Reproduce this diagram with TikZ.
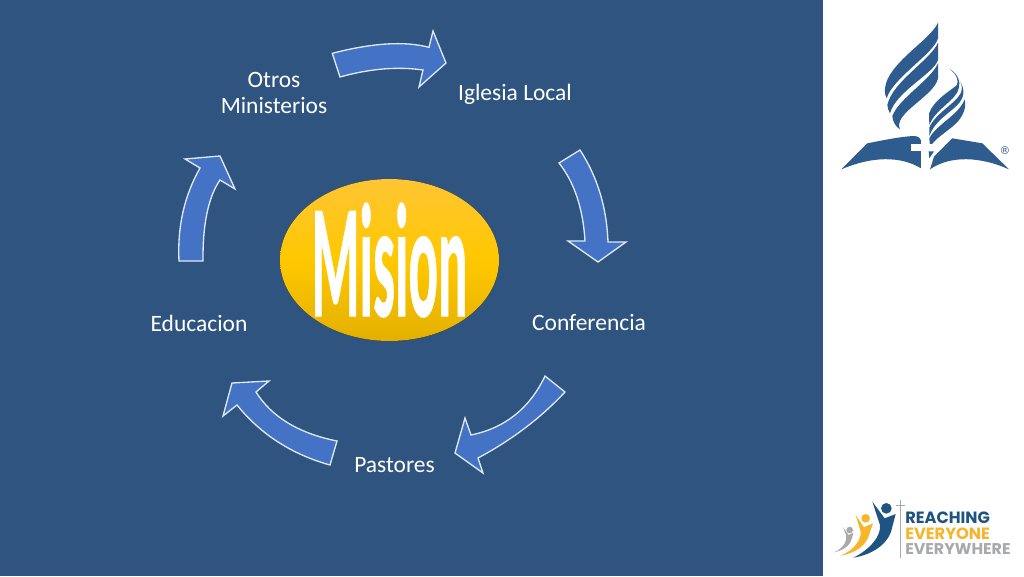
\documentclass[tikz,border=0pt]{standalone}
\usepackage{fontspec}
\setmainfont{Carlito}
\newfontfamily\logofont{Poppins}
\newfontfamily\regfont{DejaVu Sans}
\newfontfamily\misfont{Carlito}[BoldFeatures={FakeBold=0.8}]
\usetikzlibrary{shapes.geometric}
\definecolor{slidebg}{HTML}{2F5480}
\definecolor{arrowblue}{HTML}{4472C4}
\definecolor{arrowline}{HTML}{DDE8F5}
\definecolor{logoblue}{HTML}{2F5C8F}
\definecolor{navy}{HTML}{1F5382}
\definecolor{gold}{HTML}{F7B52C}
\definecolor{greyfig}{HTML}{A8A9AB}
\definecolor{balltop}{HTML}{FFC533}
\definecolor{ballmid}{HTML}{FFC800}
\definecolor{ballbot}{HTML}{E3B000}
\tikzset{
  bigarrow/.style={fill=arrowblue,draw=arrowline,line width=1pt,line join=miter},
  cyclelabel/.style={text=white,font=\fontsize{17.6}{20}\selectfont,align=center,inner sep=0pt},
  logotext/.style={inner sep=0pt,anchor=north west,font=\logofont\bfseries}
}
\begin{document}
\begin{tikzpicture}[x=0.75pt,y=-0.75pt]
\useasboundingbox (0,0) rectangle (1024,576);
\fill[white] (0,0) rectangle (1024,576);
\fill[slidebg] (0,0) rectangle (823,576);

% cycle arrows
\draw[bigarrow] (332.3,53.3) .. controls (372.6,42.9) and (404.8,40.9) .. (429,47.3) -- (433,31) -- (446,63) -- (419,87) -- (423,70) .. controls (397.3,66.3) and (369.7,68.7) .. (340,77) -- cycle;
\draw[bigarrow] (580,150) .. controls (597.3,176.7) and (606.7,207.3) .. (608,242) -- (626,242) -- (598,262) -- (568,241) -- (585,241) .. controls (583,208.3) and (574.3,182.3) .. (559,163) -- cycle;
\draw[bigarrow] (565,392) .. controls (540.7,418) and (511.7,440) .. (478,458) -- (483,473) -- (455,453) -- (465,418) -- (471,435) .. controls (505,428) and (529.7,408.3) .. (545,376) -- cycle;
\draw[bigarrow] (330,465) .. controls (291.7,454.3) and (260.7,434.3) .. (237,405) -- (223,416) -- (232,383) -- (269,381) -- (256,392) .. controls (271.7,417) and (298.7,433.3) .. (337,441) -- cycle;
\draw[bigarrow] (203,261) .. controls (202.7,224) and (208.3,197) .. (220,180) -- (235,189) -- (220,156) -- (185,159) -- (200,168) .. controls (184.3,195.7) and (177.3,226.7) .. (179,261) -- cycle;

% centre
\fill[bottom color=ballbot,top color=balltop,middle color=ballmid,shading angle=0] (389.5,260) ellipse [x radius=109.5,y radius=81];
\node[inner sep=0pt,text=white] (mision) at (389.5,260)
  {\resizebox{117pt}{85pt}{\misfont\bfseries Mision}};

% labels
\node[cyclelabel] (iglesia) at (515,94) {Iglesia Local};
\node[cyclelabel] (conferencia) at (589,323) {Conferencia};
\node[cyclelabel] (pastores) at (394.5,465) {Pastores};
\node[cyclelabel] (educacion) at (199,323) {Educacion};
\node[cyclelabel] (otros) at (274,93) {Otros\\Ministerios};

% church logo
\begin{scope}[shift={(824,10)},x=0.25pt,y=-0.25pt]
  % big flame
  \fill[logoblue] (342,38) .. controls (320,90) and (190,160) .. (183,235) .. controls (182,250) and (184,258) .. (188,265) .. controls (205,205) and (330,130) .. (342,85) -- cycle;
  \fill[logoblue] (342,98) .. controls (320,150) and (205,215) .. (190,285) .. controls (191,295) and (194,303) .. (198,310) .. controls (215,245) and (330,190) .. (342,150) -- cycle;
  \fill[logoblue] (342,160) .. controls (320,210) and (225,265) .. (205,318) .. controls (206,335) and (215,350) .. (228,358) .. controls (205,310) and (330,260) .. (342,205) -- cycle;
  % small flame
  \fill[logoblue] (378,178) .. controls (400,195) and (405,215) .. (398,226) .. controls (375,245) and (330,270) .. (315,310) -- (316,345) .. controls (335,295) and (400,270) .. (405,232) .. controls (410,215) and (400,190) .. (378,178) -- cycle;
  \fill[logoblue] (408,215) .. controls (425,240) and (420,265) .. (400,285) .. controls (375,310) and (330,335) .. (316,378) -- (316,352) .. controls (335,310) and (395,280) .. (410,250) .. controls (415,240) and (415,225) .. (408,215) -- cycle;
  \fill[logoblue] (422,268) .. controls (430,300) and (410,330) .. (385,350) .. controls (365,367) and (335,385) .. (318,410) -- (316,385) .. controls (335,345) and (405,315) .. (422,268) -- cycle;
  % book
  \fill[logoblue] (52,478) -- (130,400) .. controls (180,390) and (230,380) .. (268,378) .. controls (285,378) and (292,385) .. (292,402) -- (296,478) .. controls (230,435) and (140,440) .. (52,478) -- cycle;
  \fill[logoblue] (318,478) -- (330,440) .. controls (345,425) and (370,400) .. (385,385) -- (475,400) -- (555,478) .. controls (470,440) and (380,435) .. (318,478) -- cycle;
  \fill[white] (262,402) rectangle (332,422);
  \fill[white] (292,378) rectangle (312,482);
  \fill[logoblue] (314,424) -- (330,424) -- (316,445) -- cycle;
  \node[text=logoblue,inner sep=0pt,font=\regfont\fontsize{8}{8}\selectfont] (reg) at (543,423) {®};
\end{scope}

% reaching logo
\begin{scope}[shift={(824,490)},x=0.25pt,y=-0.25pt]
  \fill[greyfig] (228,30) rectangle (231,205);
  \fill[greyfig] (215,45) rectangle (243,48);
  \fill[greyfig] (77,120) circle [radius=10];
  \fill[greyfig] (30,187) .. controls (60,175) and (70,150) .. (66,135) -- (57,112) -- (74,135) -- (88,128) -- (84,145) .. controls (80,165) and (60,180) .. (30,187) -- cycle;
  \fill[gold] (125,85) circle [radius=13];
  \fill[gold] (50,197) .. controls (90,180) and (112,150) .. (110,125) -- (95,75) -- (120,112) -- (147,100) -- (135,135) .. controls (125,170) and (90,190) .. (50,197) -- cycle;
  \fill[navy] (187,55) circle [radius=16];
  \fill[navy] (88,203) .. controls (135,180) and (172,140) .. (168,105) -- (145,35) -- (182,85) -- (215,72) -- (205,110) .. controls (195,165) and (140,195) .. (88,203) -- cycle;
  \node[logotext,text=navy] (reaching) at (243,65) {\resizebox{63.5pt}{8.7pt}{REACHING}};
  \node[logotext,text=gold] (everyone) at (243,112) {\resizebox{63.5pt}{8.7pt}{EVERYONE}};
  \node[logotext,text=greyfig] (everywhere) at (243,160) {\resizebox{79pt}{8.2pt}{EVERYWHERE}};
\end{scope}
\end{tikzpicture}
\end{document}
